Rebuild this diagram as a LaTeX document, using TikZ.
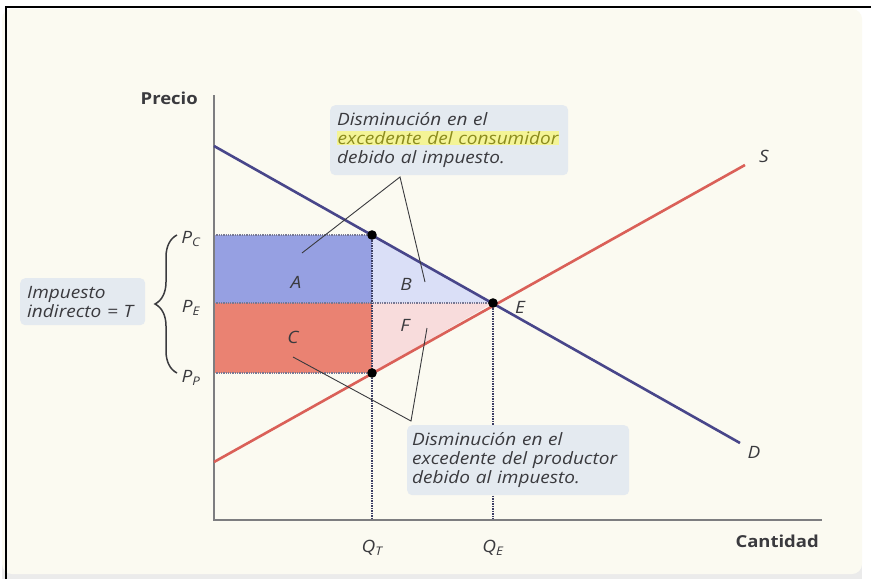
\documentclass[tikz,border=0pt]{standalone}
\usepackage{fontspec}
\setmainfont{Open Sans}[FakeStretch=1.12]
\usetikzlibrary{calc,decorations.pathreplacing}
\definecolor{panelCream}{RGB}{251,250,241}
\definecolor{inkGray}{RGB}{58,58,62}
\definecolor{axisGray}{RGB}{125,125,128}
\definecolor{demandInk}{RGB}{72,70,138}
\definecolor{supplyInk}{RGB}{218,96,88}
\definecolor{dotInk}{RGB}{60,62,100}
\definecolor{areaA}{RGB}{150,160,226}
\definecolor{areaB}{RGB}{218,223,247}
\definecolor{areaC}{RGB}{234,130,114}
\definecolor{areaF}{RGB}{248,220,220}
\definecolor{noteFill}{RGB}{228,234,240}
\definecolor{hiYellow}{RGB}{244,244,150}
\definecolor{hiInk}{RGB}{140,140,30}
\newcommand{\PQ}[2]{\textit{#1}\textsubscript{\textit{#2}}}
\newcommand{\Resalte}[1]{{\setlength{\fboxsep}{0.5pt}\colorbox{hiYellow}{\color{hiInk}#1}}}

\begin{document}
\begin{tikzpicture}[x=1pt,y=-1pt,font=\itshape\fontsize{17}{19}\selectfont,text=inkGray]
\useasboundingbox (0,0) rectangle (871,579);
\fill[white] (0,0) rectangle (871,579);
\fill[black!8] (2,560) rectangle (862,579);
\fill[panelCream,rounded corners=10pt] (2,9) rectangle (862,574);
\draw[black,line width=2.6pt] (6,579) -- (6,7) -- (871,7);

\coordinate (O) at (214,520);
\coordinate (Ctop) at (372,235);
\coordinate (Pbot) at (372,373);
\coordinate (Eq) at (493,303);
\coordinate (QTax) at (372,520);
\coordinate (QEax) at (493,520);

\fill[areaA] (214,235) rectangle (Eq -| Ctop);
\fill[areaC] (214,303) rectangle (Pbot);
\fill[areaB] (Ctop) -- (Eq) -- (Eq -| Ctop) -- cycle;
\fill[areaF] (Eq -| Ctop) -- (Eq) -- (Pbot) -- cycle;

\draw[dotInk!70,densely dotted,line width=1.3pt] (214,235) -- (Ctop);
\draw[dotInk!70,densely dotted,line width=1.3pt] (214,303) -- (Eq);
\draw[dotInk!70,densely dotted,line width=1.3pt] (214,373) -- (Pbot);
\draw[dotInk,densely dotted,line width=1.5pt] (Ctop) -- (QTax);
\draw[dotInk,densely dotted,line width=1.5pt] (Eq) -- (QEax);

\draw[axisGray,line width=1.3pt] (214,95) -- (O) -- (822,520);
\draw[demandInk,line width=2.6pt] (214,146) -- (740,443);
\draw[supplyInk,line width=2.6pt] (214,462) -- (745,165);
\node (dlab) at (754,452) {D};
\node (slab) at (764,156) {S};

\foreach \pt in {Ctop,Pbot,Eq}
  \fill[black] (\pt) circle (4.8);

\node[font=\bfseries\fontsize{16.5}{16.5}\selectfont,anchor=east,inner xsep=0pt] (precio) at (198,98) {Precio};
\node[font=\bfseries\fontsize{16.5}{16.5}\selectfont,anchor=east,inner xsep=0pt] (cantidad) at (819,541) {Cantidad};

\node (pc) at (191,239) {\PQ{P}{C}};
\node (pe) at (191,308) {\PQ{P}{E}};
\node (pp) at (191,378) {\PQ{P}{P}};
\node (qt) at (372,548) {\PQ{Q}{T}};
\node (qe) at (493,548) {\PQ{Q}{E}};
\node (ea) at (520,307) {E};
\node (la) at (296,282) {A};
\node (lb) at (406,284) {B};
\node (lc) at (293,337) {C};
\node (lf) at (405,325) {F};

\draw[inkGray,line width=1.5pt,decorate,decoration={brace,amplitude=22pt}]
  (177,373) -- (177,235);

\node[fill=noteFill,rounded corners=5pt,anchor=north west,text width=111pt,minimum height=47pt,
      align=left,inner xsep=7pt] (tax) at (20,278) {Impuesto\\indirecto = T};

\node[fill=noteFill,rounded corners=5pt,anchor=north west,text width=224pt,minimum height=70pt,
      align=left,inner xsep=7pt] (upnote) at (330,105)
  {Disminución en el\\\Resalte{excedente del consumidor}\\debido al impuesto.};
\node[fill=noteFill,rounded corners=5pt,anchor=north west,text width=212pt,minimum height=70pt,
      align=left,inner xsep=5pt] (lownote) at (407,425)
  {Disminución en el\\excedente del productor\\debido al impuesto.};

\coordinate (upTip) at (400,177);
\coordinate (aEnd) at (302,253);
\coordinate (bEnd) at (425,282);
\coordinate (lowTip) at (411,421);
\coordinate (cEnd) at (293,357);
\coordinate (fEnd) at (427,328);
\draw[inkGray,line width=0.9pt] (aEnd) -- (upTip) -- (bEnd);
\draw[inkGray,line width=0.9pt] (cEnd) -- (lowTip) -- (fEnd);
\end{tikzpicture}
\end{document}
